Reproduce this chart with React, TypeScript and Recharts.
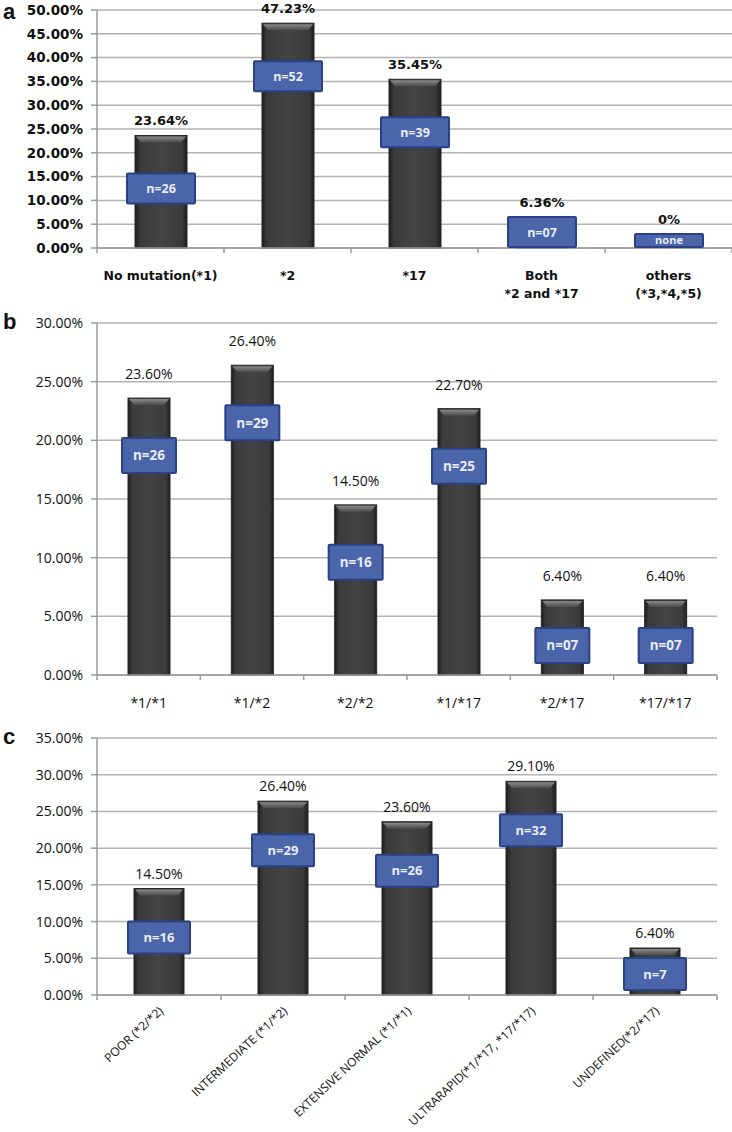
import React from "react";
import { BarChart, Bar, XAxis, YAxis, CartesianGrid, LabelList } from "recharts";

// panel a: CYP2C19 alleles
const aCategories = ["No mutation(*1)", "*2", "*17", "Both\n*2 and *17", "others\n(*3,*4,*5)"];
const aValues = [23.64, 47.23, 35.45, 6.36, 0];
const aCounts = ["n=26", "n=52", "n=39", "n=07", "none"];
const aTicks = [0, 5, 10, 15, 20, 25, 30, 35, 40, 45, 50];

// panel b: genotypes
const bCategories = ["*1/*1", "*1/*2", "*2/*2", "*1/*17", "*2/*17", "*17/*17"];
const bValues = [23.6, 26.4, 14.5, 22.7, 6.4, 6.4];
const bCounts = ["n=26", "n=29", "n=16", "n=25", "n=07", "n=07"];
const bTicks = [0, 5, 10, 15, 20, 25, 30];

// panel c: phenotypes
const cCategories = [
  "POOR (*2/*2)",
  "INTERMEDIATE (*1/*2)",
  "EXTENSIVE NORMAL (*1/*1)",
  "ULTRARAPID(*1/*17, *17/*17)",
  "UNDEFINED(*2/*17)",
];
const cValues = [14.5, 26.4, 23.6, 29.1, 6.4];
const cCounts = ["n=16", "n=29", "n=26", "n=32", "n=7"];
const cTicks = [0, 5, 10, 15, 20, 25, 30, 35];

const AXIS = "#9a9a9a";
const GRID = "#b3b3b3";

function GlossyBar(props: any) {
  const { x, y, width, height, gid } = props;
  if (!height || height <= 0) return null;
  const b = Math.min(7, height / 2);
  return (
    <g>
      <rect x={x} y={y} width={width} height={height} fill={`url(#${gid})`} stroke="#242424" strokeWidth={1} />
      <polygon
        points={`${x + 1},${y + 1} ${x + width - 1},${y + 1} ${x + width - 6},${y + b} ${x + 6},${y + b}`}
        fill={`url(#${gid}top)`}
      />
    </g>
  );
}

function Panel(props: any) {
  const { cfg } = props;
  const data = cfg.categories.map((name: string, i: number) => ({
    name,
    value: cfg.values[i],
    n: cfg.counts[i],
  }));
  const plotW = cfg.width - cfg.yWidth - cfg.marginRight;
  const bw = plotW / data.length;
  const yMax = cfg.ticks[cfg.ticks.length - 1];

  const renderTick = (p: any) => {
    const { x, y, payload } = p;
    const index = p.index ?? payload.index;
    const half = bw / 2;
    const lines = String(payload.value).split("\n");
    return (
      <g>
        <line x1={x - half} y1={y} x2={x - half} y2={y + 5} stroke={AXIS} strokeWidth={1.5} />
        {index === data.length - 1 && (
          <line x1={x + half} y1={y} x2={x + half} y2={y + 5} stroke={AXIS} strokeWidth={1.5} />
        )}
        {cfg.rotate ? (
          <text
            x={x + 5}
            y={y + 17}
            textAnchor="end"
            transform={`rotate(-43, ${x + 5}, ${y + 17})`}
            fontFamily={cfg.catFont}
            fontSize={cfg.catSize}
            fill="#111"
          >
            {payload.value}
          </text>
        ) : (
          <text
            x={x}
            y={y + cfg.catOffset}
            textAnchor="middle"
            fontFamily={cfg.catFont}
            fontSize={cfg.catSize}
            fontWeight={cfg.catWeight}
            fill="#111"
          >
            {lines.map((l: string, i: number) => (
              <tspan key={i} x={x} dy={i === 0 ? 0 : cfg.catSize + 5}>
                {l}
              </tspan>
            ))}
          </text>
        )}
      </g>
    );
  };

  const renderLabels = (p: any) => {
    const { x, y, width, height, value, index } = p;
    const base = y + height;
    const bxW = width + cfg.boxExtra;
    const bxH = value === 0 ? 13 : cfg.boxH;
    let top = value === 0 ? base - bxH - 1 : y + cfg.boxOffset;
    if (top + bxH > base - cfg.boxGap) top = base - cfg.boxGap - bxH;
    const bx = x + width / 2 - bxW / 2;
    const labelY = Math.min(y, top) - cfg.labelOffset;
    const txt = value === 0 ? "0%" : value.toFixed(2) + "%";
    return (
      <g>
        <rect x={bx} y={top} width={bxW} height={bxH} fill="#4a65aa" stroke="#2b4184" strokeWidth={2} rx={1} />
        <text
          x={x + width / 2}
          y={top + bxH / 2}
          dy={value === 0 ? "0.3em" : "0.36em"}
          textAnchor="middle"
          fontFamily="'Open Sans'"
          fontWeight="bold"
          fontSize={value === 0 ? 11 : cfg.boxText}
          fill="#e8ecf6"
        >
          {data[index].n}
        </text>
        <text
          x={x + width / 2}
          y={labelY}
          dy="0.36em"
          textAnchor="middle"
          fontFamily={cfg.valFont}
          fontSize={cfg.valSize}
          fontWeight={cfg.valWeight}
          fill="#111"
        >
          {txt}
        </text>
      </g>
    );
  };

  return (
    <div style={{ position: "absolute", left: 0, top: cfg.top, width: cfg.width, height: cfg.height }}>
      <BarChart
        width={cfg.width}
        height={cfg.height}
        data={data}
        margin={{ top: cfg.marginTop, right: cfg.marginRight, bottom: 0, left: 0 }}
      >
        <defs>
          <linearGradient id={cfg.id} x1="0" y1="0" x2="1" y2="0">
            <stop offset="0" stopColor="#1e1e1e" />
            <stop offset="0.1" stopColor="#3a3a3a" />
            <stop offset="0.5" stopColor="#444" />
            <stop offset="0.9" stopColor="#3a3a3a" />
            <stop offset="1" stopColor="#1e1e1e" />
          </linearGradient>
          <linearGradient id={cfg.id + "top"} x1="0" y1="0" x2="0" y2="1">
            <stop offset="0" stopColor="#8a8a8a" />
            <stop offset="1" stopColor="#4a4a4a" />
          </linearGradient>
        </defs>
        <CartesianGrid vertical={false} stroke={GRID} strokeWidth={1.5} />
        <YAxis
          width={cfg.yWidth}
          domain={[0, yMax]}
          ticks={cfg.ticks}
          interval={0}
          tickFormatter={(v: number) => v.toFixed(2) + "%"}
          axisLine={{ stroke: AXIS, strokeWidth: 1.5 }}
          tickLine={{ stroke: AXIS, strokeWidth: 1.5 }}
          tickSize={6}
          tickMargin={8}
          tick={{ fontFamily: cfg.tickFont, fontSize: cfg.tickSize, fontWeight: cfg.tickWeight, fill: "#111" }}
        />
        <XAxis
          dataKey="name"
          interval={0}
          height={cfg.height - cfg.marginTop - cfg.plotH}
          axisLine={{ stroke: AXIS, strokeWidth: 1.5 }}
          tickLine={false}
          tickSize={0}
          tickMargin={0}
          tick={renderTick}
        />
        <Bar
          dataKey="value"
          barSize={cfg.barSize}
          isAnimationActive={false}
          shape={(p: any) => <GlossyBar {...p} gid={cfg.id} />}
        >
          <LabelList dataKey="value" content={renderLabels} />
        </Bar>
      </BarChart>
    </div>
  );
}

const panelA = {
  id: "gA",
  categories: aCategories,
  values: aValues,
  counts: aCounts,
  ticks: aTicks,
  top: 0,
  width: 732,
  height: 305,
  marginTop: 10,
  marginRight: 0,
  plotH: 238,
  yWidth: 97,
  barSize: 52,
  tickFont: "'DejaVu Sans'",
  tickSize: 13.5,
  tickWeight: "bold",
  catFont: "'DejaVu Sans'",
  catSize: 12.5,
  catWeight: "bold",
  catOffset: 32,
  valFont: "'DejaVu Sans'",
  valSize: 13,
  valWeight: "bold",
  labelOffset: 15,
  boxExtra: 16,
  boxH: 30,
  boxOffset: 38,
  boxGap: 1,
  boxText: 12.5,
};

const panelB = {
  id: "gB",
  categories: bCategories,
  values: bValues,
  counts: bCounts,
  ticks: bTicks,
  top: 305,
  width: 732,
  height: 415,
  marginTop: 18,
  marginRight: 15,
  plotH: 352,
  yWidth: 97,
  barSize: 42,
  tickFont: "'Open Sans'",
  tickSize: 14,
  tickWeight: "normal",
  catFont: "'Open Sans'",
  catSize: 14,
  catWeight: "normal",
  catOffset: 33,
  valFont: "'Open Sans'",
  valSize: 14,
  valWeight: "normal",
  labelOffset: 24,
  boxExtra: 12,
  boxH: 35,
  boxOffset: 40,
  boxGap: 12,
  boxText: 13.5,
};

const panelC = {
  id: "gC",
  categories: cCategories,
  values: cValues,
  counts: cCounts,
  ticks: cTicks,
  top: 720,
  width: 732,
  height: 412,
  marginTop: 18,
  marginRight: 15,
  plotH: 257,
  yWidth: 97,
  barSize: 50,
  tickFont: "'Open Sans'",
  tickSize: 14,
  tickWeight: "normal",
  catFont: "'Open Sans'",
  catSize: 12,
  catWeight: "normal",
  catOffset: 30,
  rotate: true,
  valFont: "'Open Sans'",
  valSize: 14,
  valWeight: "normal",
  labelOffset: 15,
  boxExtra: 12,
  boxH: 32,
  boxOffset: 33,
  boxGap: 5,
  boxText: 13,
};

const letterStyle: React.CSSProperties = {
  position: "absolute",
  left: 3,
  fontFamily: "'Liberation Sans', Arial, sans-serif",
  fontWeight: "bold",
  fontSize: 22,
  lineHeight: "22px",
  color: "#111",
};

export default function App() {
  return (
    <div style={{ position: "absolute", left: 0, top: 0, width: 732, height: 1132, background: "#fff" }}>
      <Panel cfg={panelA} />
      <Panel cfg={panelB} />
      <Panel cfg={panelC} />
      <div style={{ ...letterStyle, top: 1 }}>a</div>
      <div style={{ ...letterStyle, top: 311 }}>b</div>
      <div style={{ ...letterStyle, top: 726 }}>c</div>
    </div>
  );
}
